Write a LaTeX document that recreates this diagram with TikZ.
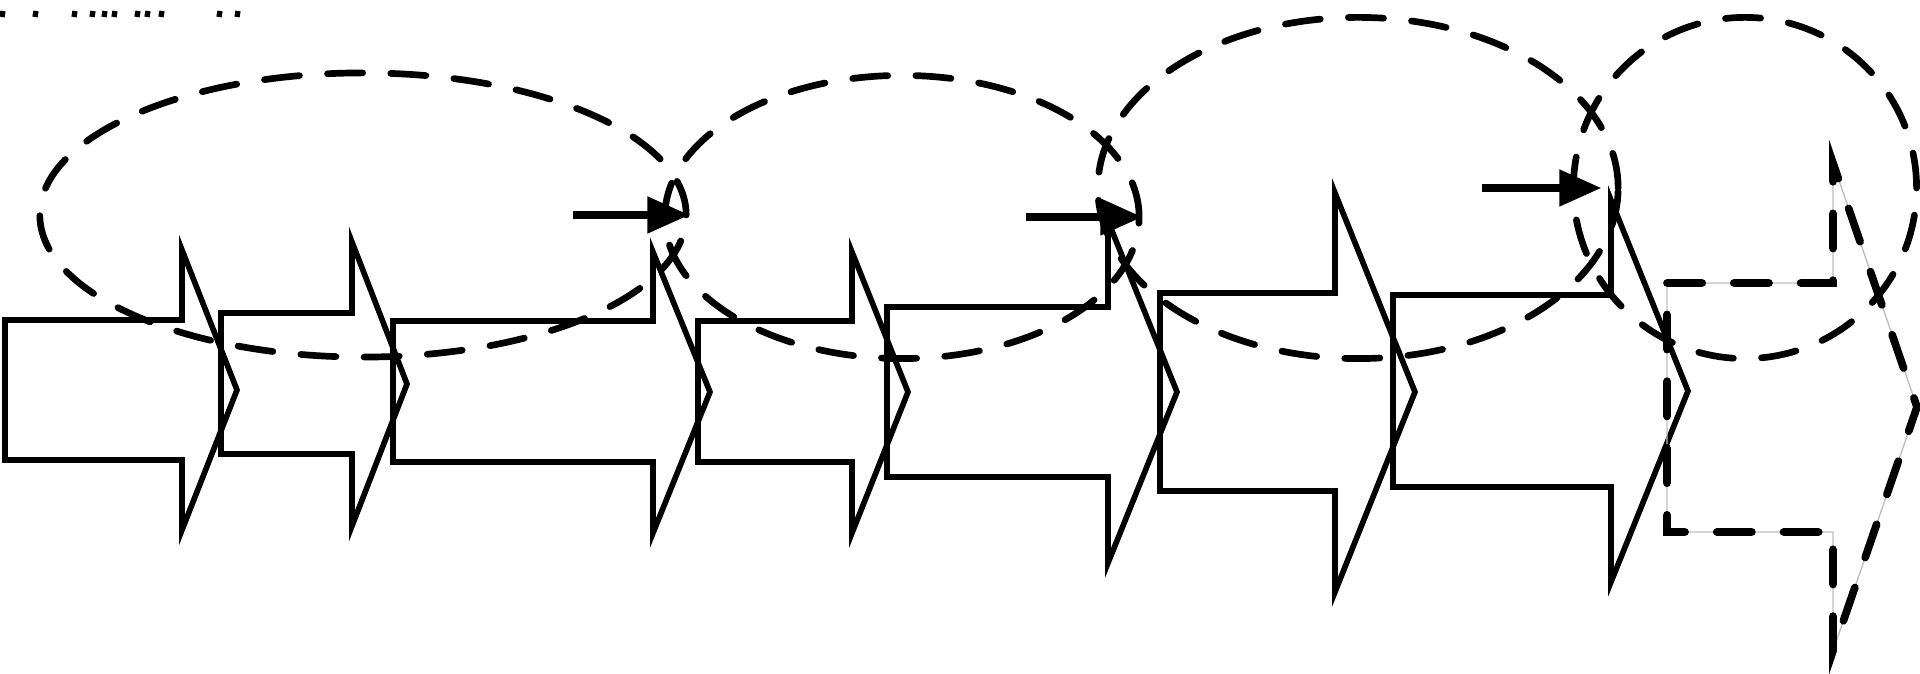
\documentclass[tikz,border=0pt]{standalone}
\usepackage{tikz}
\usetikzlibrary{arrows.meta,shapes.geometric}

\tikzset{
 loop/.style={draw,ellipse,inner sep=0pt,line width=1.9pt,line cap=round,dash pattern=on 10pt off 8pt},
 push/.style={line width=2.2pt,-{Triangle[length=12pt,width=10pt]}},
}

\begin{document}
\begin{tikzpicture}[x=0.01cm,y=-0.01cm,line width=1.6pt]
 \useasboundingbox (0,0) rectangle (1920,674);

 % remnants of the cut caption
 \foreach \x in {3,36,75,93,105,115,138,148,162,220,238}
  \draw[line width=1.5pt] (\x,11) -- (\x-1,17);

 % block arrows
 \draw (5,320) -- (182,320) -- (182,250) -- (237,390) -- (182,530) -- (182,460) -- (5,460) -- cycle;
 \draw (221,313) -- (352,313) -- (352,242) -- (407,384) -- (352,526) -- (352,454) -- (221,454) -- cycle;
 \draw (393,321) -- (653,321) -- (653,252) -- (710,392) -- (653,533) -- (653,462) -- (393,462) -- cycle;
 \draw (698,321) -- (852,321) -- (852,252) -- (908,392) -- (852,533) -- (852,462) -- (698,462) -- cycle;
 \draw (887,307) -- (1108,307) -- (1108,221) -- (1177,392) -- (1108,563) -- (1108,477) -- (887,477) -- cycle;
 \draw (1160,293) -- (1335,293) -- (1335,193) -- (1415,392) -- (1335,592) -- (1335,491) -- (1160,491) -- cycle;
 \draw (1393,295) -- (1611,295) -- (1611,200) -- (1688,391) -- (1611,582) -- (1611,487) -- (1393,487) -- cycle;

 % the last one is only sketched
 \draw[gray!50,line width=0.4pt] (1667,283) -- (1833,283) -- (1833,163) -- (1917,407) -- (1833,651) -- (1833,532) -- (1667,532) -- cycle;
 \draw[line width=2.2pt,line cap=round,dash pattern=on 10pt off 9pt] (1667,283) -- (1833,283) -- (1833,163) -- (1917,407) -- (1833,651) -- (1833,532) -- (1667,532) -- cycle;

 % loops
 \node[loop,minimum width=6.46cm,minimum height=2.84cm] (e1) at (363,215) {};
 \node[loop,minimum width=4.74cm,minimum height=2.83cm] (e2) at (902,217) {};
 \node[loop,minimum width=5.2cm,minimum height=3.41cm] (e3) at (1358,188) {};
 \node[loop,minimum width=3.43cm,minimum height=3.41cm] (e4) at (1745,188) {};

 \coordinate (s1) at (573,215);
 \coordinate (s2) at (1026,217);
 \coordinate (s3) at (1482,188);
 \draw[push] (s1) -- (e1.east);
 \draw[push] (s2) -- (e2.east);
 \draw[push,shorten >=0.2cm] (s3) -- (e3.east);
\end{tikzpicture}
\end{document}
